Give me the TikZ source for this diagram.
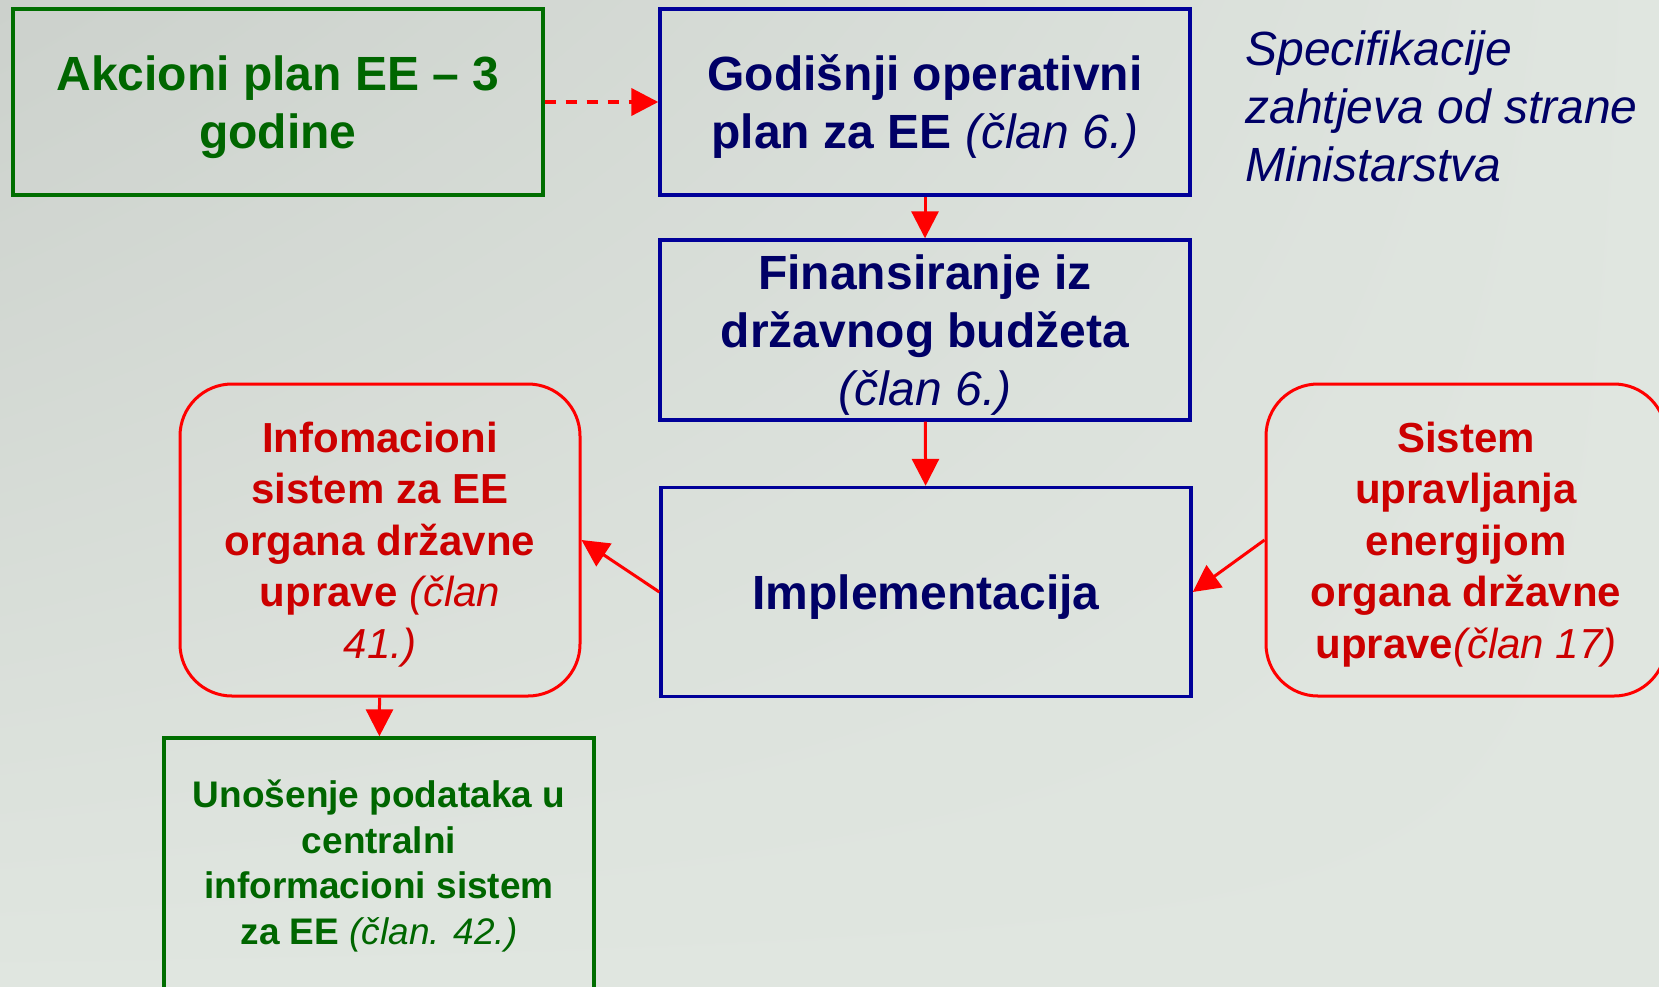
\documentclass[tikz,border=0pt]{standalone}
\usepackage{fontspec}
\setmainfont{Liberation Sans}
\usetikzlibrary{arrows.meta,shadings}

\definecolor{bgdark}{RGB}{204,209,204}
\definecolor{bglight}{RGB}{224,230,224}
\definecolor{akgreen}{RGB}{0,102,0}
\definecolor{linegreen}{RGB}{0,110,0}
\definecolor{navytext}{RGB}{0,0,102}
\definecolor{navyline}{RGB}{0,0,153}
\definecolor{redtext}{RGB}{204,0,0}
\definecolor{redline}{RGB}{255,0,0}

\newcommand{\clan}[1]{{\mdseries\itshape #1}}

\begin{document}
\begin{tikzpicture}[x=0.5pt,y=-0.5pt,
  greenbox/.style={draw=linegreen,line width=1.7pt,text=akgreen,align=center,inner sep=0pt,text depth=0pt},
  bluebox/.style={draw=navyline,line width=1.7pt,text=navytext,align=center,inner sep=0pt,text depth=0pt,
    minimum width=265pt,font=\bfseries\fontsize{24}{29}\selectfont},
  redbox/.style={draw=redline,line width=1.5pt,rounded corners=26pt,text=redtext,align=center,
    inner sep=0pt,text depth=0pt,minimum width=200pt,minimum height=156pt,font=\bfseries\fontsize{21}{25.8}\selectfont},
  flow/.style={draw=redline,line width=1.5pt,-{Triangle[length=13.5pt,width=13.5pt]}}]

  \useasboundingbox (0,0) rectangle (1659,986);
  \clip (0,0) rectangle (1659,986);
  \shade [upper left=bgdark,upper right=bglight,lower left=bglight,lower right=bglight] (0,0) rectangle (1659,986);

  % top row
  \node [greenbox,minimum width=265pt,minimum height=93pt,
    font=\bfseries\fontsize{24}{29}\selectfont] (akcioni) at (278,102) {Akcioni plan EE -- 3\\godine};
  \node [bluebox,minimum height=93pt] (godisnji) at (925,102) {Godišnji operativni\\plan za EE \clan{(član 6.)}};
  \node [anchor=west,text=navytext,align=left,inner sep=0pt,
    font=\itshape\fontsize{24}{29}\selectfont] (spec) at (1245,106)
    {Specifikacije\\zahtjeva od strane\\Ministarstva};

  % middle column
  \node [bluebox,minimum height=90pt] (finans) at (925,330) {Finansiranje iz\\državnog budžeta\\\clan{(član 6.)}};
  \node [bluebox,minimum height=104.5pt] (impl) at (926,592) {Implementacija};

  % side boxes
  \node [redbox] (info) at (380,540) {Infomacioni\\sistem za EE\\organa državne\\uprave \clan{(član}\\\clan{41.)}};
  \node [redbox] (sistem) at (1466,540) {Sistem\\upravljanja\\energijom\\organa državne\\uprave\clan{(član 17)}};

  \node [greenbox,minimum width=215pt,minimum height=130pt,text depth=6pt,
    font=\bfseries\fontsize{18.5}{22.8}\selectfont] (unos) at (379,868)
    {Unošenje podataka u\\centralni\\informacioni sistem\\za EE \clan{(član. 42.)}};

  % connectors
  \draw [flow,line width=2pt,dash pattern=on 5.5pt off 5pt] (akcioni) -- (godisnji);
  \draw [flow] (godisnji) -- (finans);
  \draw [flow] (finans) -- (impl);
  \draw [flow] (impl.west) -- (info.east);
  \draw [flow] (sistem.west) -- (impl.east);
  \draw [flow] (info) -- (unos);

\end{tikzpicture}
\end{document}
